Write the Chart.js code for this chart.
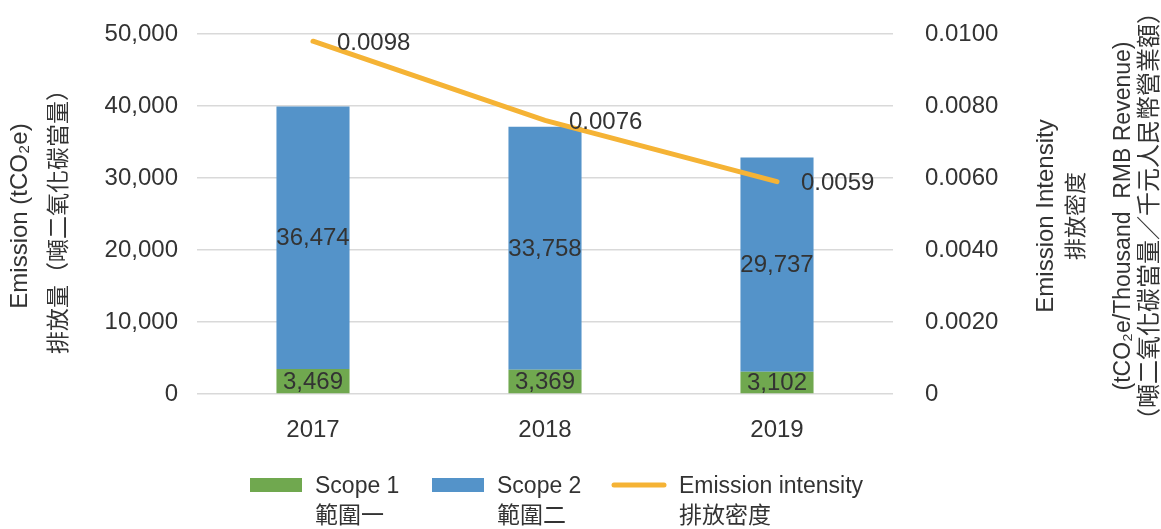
<!DOCTYPE html>
<html>
<head>
<meta charset="utf-8">
<script src="https://cdn.jsdelivr.net/npm/chart.js@4/dist/chart.umd.min.js"></script>
<style>
  html, body { margin: 0; padding: 0; background: #fff; }
  #wrap { width: 1161px; height: 529px; }
</style>
</head>
<body>
<div id="wrap"><canvas id="chart" width="1161" height="529"></canvas></div>
<script>
const years = ['2017', '2018', '2019'];
const scope1 = [3469, 3369, 3102];
const scope2 = [36474, 33758, 29737];
const intensity = [0.0098, 0.0076, 0.0059];
const seriesNames = [['Scope 1', '範圍一'], ['Scope 2', '範圍二'], ['Emission intensity', '排放密度']];
const leftTitle = ['Emission (tCO₂e)', '排放量（噸二氧化碳當量）'];
const rightTitle = ['Emission Intensity', '排放密度', '(tCO₂e/Thousand  RMB Revenue)', '（噸二氧化碳當量／千元人民幣營業額）'];

const GREEN = '#70a84f';
const BLUE = '#5493c9';
const ORANGE = '#f5b335';
const TEXT = '#333333';
const FONT = "'Liberation Sans', 'Noto Sans CJK TC', sans-serif";

const extras = {
    id: 'extras',
    afterDatasetsDraw(chart) {
        const ctx = chart.ctx;
        ctx.save();
        ctx.fillStyle = TEXT;
        ctx.font = '24px ' + FONT;
        ctx.textBaseline = 'middle';
        ctx.textAlign = 'center';
        [0, 1].forEach(i => {
            const ds = chart.data.datasets[i];
            chart.getDatasetMeta(i).data.forEach((el, j) => {
                ctx.fillText(ds.data[j].toLocaleString('en-US'), el.x, (el.y + el.base) / 2 + 1);
            });
        });
        ctx.textAlign = 'left';
        chart.getDatasetMeta(2).data.forEach((el, j) => {
            ctx.fillText(intensity[j].toFixed(4), el.x + 24, el.y + 2);
        });
        ctx.restore();
    },
    afterDraw(chart) {
        const ctx = chart.ctx;
        const a = chart.chartArea;
        const cy = (a.top + a.bottom) / 2 + 2;
        ctx.save();
        ctx.fillStyle = TEXT;
        ctx.textAlign = 'center';
        ctx.textBaseline = 'middle';
        const leftX = [20, 60];
        const leftSize = [24, 23];
        leftTitle.forEach((t, i) => {
            ctx.save();
            ctx.font = leftSize[i] + 'px ' + FONT;
            ctx.translate(leftX[i], cy);
            ctx.rotate(-Math.PI / 2);
            ctx.fillText(t, 0, 0);
            ctx.restore();
        });
        const rightX = [1046, 1077, 1124, 1150];
        const rightSize = [24, 22, 23, 24];
        rightTitle.forEach((t, i) => {
            ctx.save();
            ctx.font = rightSize[i] + 'px ' + FONT;
            ctx.translate(rightX[i], cy);
            ctx.rotate(-Math.PI / 2);
            ctx.fillText(t, 0, 0);
            ctx.restore();
        });

        // legend
        const itemX = [250, 432, 612];
        const colors = [GREEN, BLUE, ORANGE];
        ctx.font = '23px ' + FONT;
        ctx.textAlign = 'left';
        seriesNames.forEach((lines, i) => {
            const x = itemX[i];
            if (i < 2) {
                ctx.fillStyle = colors[i];
                ctx.fillRect(x, 478, 52, 14);
            } else {
                ctx.strokeStyle = colors[i];
                ctx.lineWidth = 5;
                ctx.lineCap = 'round';
                ctx.beginPath();
                ctx.moveTo(x + 2, 485);
                ctx.lineTo(x + 52, 485);
                ctx.stroke();
            }
            ctx.fillStyle = TEXT;
            const tx = x + (i < 2 ? 65 : 67);
            ctx.fillText(lines[0], tx, 487);
            ctx.fillText(lines[1], tx, 517);
        });
        ctx.restore();
    }
};

const ctx = document.getElementById('chart').getContext('2d');
new Chart(ctx, {
    data: {
        labels: years,
        datasets: [
            {
                type: 'bar',
                label: seriesNames[0].join(' '),
                data: scope1,
                backgroundColor: GREEN,
                yAxisID: 'y',
                order: 2,
                categoryPercentage: 1,
                barPercentage: 0.315
            },
            {
                type: 'bar',
                label: seriesNames[1].join(' '),
                data: scope2,
                backgroundColor: BLUE,
                yAxisID: 'y',
                order: 2,
                categoryPercentage: 1,
                barPercentage: 0.315
            },
            {
                type: 'line',
                label: seriesNames[2].join(' '),
                data: intensity,
                borderColor: ORANGE,
                borderWidth: 5,
                borderCapStyle: 'round',
                pointRadius: 0,
                tension: 0,
                fill: false,
                yAxisID: 'y1',
                order: 1
            }
        ]
    },
    options: {
        responsive: false,
        animation: false,
        layout: { padding: { top: 34, bottom: 0, left: 0, right: 0 } },
        plugins: {
            legend: { display: false },
            tooltip: { enabled: false }
        },
        scales: {
            x: {
                stacked: true,
                grid: { display: false, drawTicks: false },
                border: { display: false },
                ticks: { color: TEXT, font: { size: 24, family: FONT }, padding: 22 },
                afterFit(scale) { scale.height = 135; }
            },
            y: {
                stacked: true,
                position: 'left',
                min: 0,
                max: 50000,
                grid: { color: '#d9d9d9', lineWidth: 1.5, drawTicks: false },
                border: { display: false },
                ticks: {
                    stepSize: 10000,
                    color: TEXT,
                    font: { size: 24, family: FONT },
                    padding: 19,
                    callback: v => v.toLocaleString('en-US')
                },
                afterFit(scale) {
                    scale.width = 197;
                    scale.paddingTop = 0;
                    scale.paddingBottom = 0;
                }
            },
            y1: {
                position: 'right',
                min: 0,
                max: 0.01,
                grid: { display: false, drawTicks: false },
                border: { display: false },
                ticks: {
                    stepSize: 0.002,
                    color: TEXT,
                    font: { size: 24, family: FONT },
                    padding: 32,
                    callback: v => v === 0 ? '0' : v.toFixed(4)
                },
                afterFit(scale) {
                    scale.width = 268;
                    scale.paddingTop = 0;
                    scale.paddingBottom = 0;
                }
            }
        }
    },
    plugins: [extras]
});
</script>
</body>
</html>
